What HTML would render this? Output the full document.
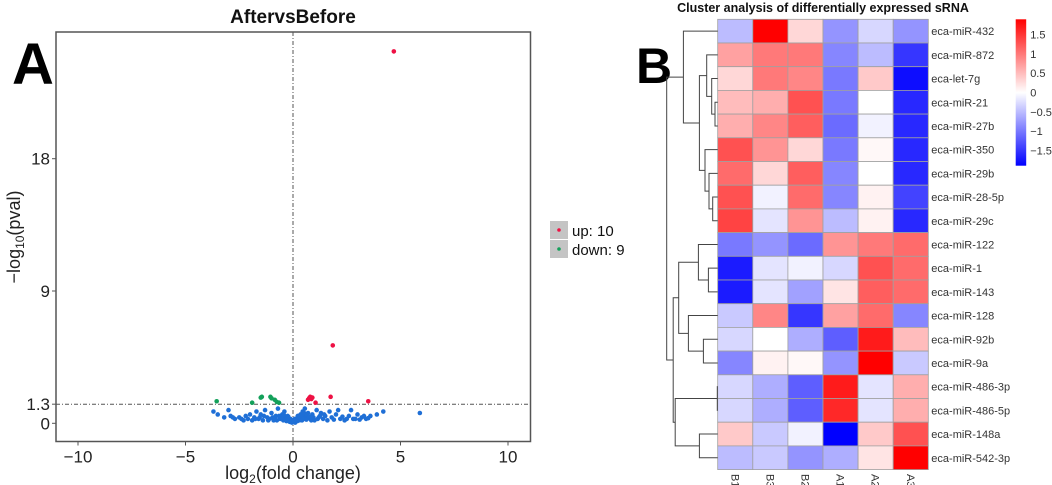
<!DOCTYPE html>
<html><head><meta charset="utf-8">
<style>
body{margin:0;background:#fff;}
svg{display:block;font-family:"Liberation Sans",Arial,sans-serif;}
</style></head>
<body>
<svg id="fig" width="1052" height="485" viewBox="0 0 1052 485">
  <g id="volcano"></g>
  <g id="heat"></g>
</svg>
<script>
// ---------- Volcano data ----------
const xTicks = [-10, -5, 0, 5, 10];
const yTicks = [0, 1.3, 9, 18];
const yTickLabels = ["0", "1.3", "9", "18"];
const blueX = [-3.7,-3.5,-3.2,-3.0,-2.9,-2.7,-2.5,-2.3,-2.1,-2.0,-1.9,-1.8,-1.7,-1.6,-1.5,-1.4,-1.3,-1.2,-1.1,-1.0,-0.9,-0.8,-0.7,-0.6,-0.5,-0.45,-0.4,-0.35,-0.3,-0.25,-0.2,-0.15,-0.1,-0.05,0,0.05,0.1,0.15,0.2,0.25,0.3,0.35,0.4,0.45,0.5,0.55,0.6,0.7,0.8,0.9,1.0,1.1,1.2,1.3,1.4,1.5,1.6,1.7,1.8,2.0,2.1,2.2,2.4,2.6,2.7,2.8,3.0,3.2,3.4,3.6,3.9,4.2,5.9,
  -2.8,-2.4,-2.2,-1.75,-1.55,-1.35,-1.15,-0.95,-0.85,-0.75,-0.65,-0.55,-0.5,-0.42,-0.38,-0.28,-0.22,-0.12,-0.08,0.02,0.08,0.12,0.18,0.22,0.28,0.32,0.38,0.42,0.48,0.52,0.62,0.65,0.75,0.85,0.95,1.15,1.25,1.45,1.9,2.3,2.5,2.9,3.1,3.3,3.5];
const blueY = [0.8,0.6,0.4,0.9,0.5,0.3,0.4,0.2,0.3,0.6,0.2,0.4,0.8,0.3,0.6,0.2,0.9,0.4,0.3,0.7,0.2,0.5,1.0,0.3,0.6,0.2,0.8,0.4,0.15,0.5,0.3,0.1,0.25,0.05,0.1,0.2,0.05,0.3,0.15,0.4,0.2,0.6,0.3,0.8,0.5,1.0,0.4,0.7,0.3,0.6,0.2,0.9,0.4,0.7,0.3,0.5,0.2,0.8,0.4,0.6,0.9,0.3,0.2,0.5,0.9,0.3,0.6,0.4,0.3,0.5,0.6,0.8,0.7,
  0.4,0.3,0.5,0.3,0.4,0.5,0.2,0.4,0.3,0.2,0.5,0.4,0.35,0.55,0.25,0.35,0.45,0.3,0.15,0.2,0.3,0.2,0.25,0.5,0.35,0.4,0.55,0.2,0.3,0.7,0.25,0.55,0.45,0.2,0.4,0.3,0.5,0.6,0.25,0.45,0.3,0.3,0.25,0.5,0.35];
const upX = [4.69,1.85,0.75,0.8,0.85,0.9,1.05,1.75,3.5,0.7];
const upY = [25.3,5.3,1.7,1.8,1.65,1.75,1.4,1.8,1.5,1.6];
const downX = [-3.55,-1.45,-1.05,-0.85,-0.65,-1.9,-0.75,-1.0,-1.5];
const downY = [1.5,1.8,1.8,1.6,1.4,1.4,1.45,1.7,1.75];
const legendLabels = ["up: 10", "down: 9"];

// ---------- Heatmap data ----------
const genes = ["eca-miR-432","eca-miR-872","eca-let-7g","eca-miR-21","eca-miR-27b","eca-miR-350","eca-miR-29b","eca-miR-28-5p","eca-miR-29c","eca-miR-122","eca-miR-1","eca-miR-143","eca-miR-128","eca-miR-92b","eca-miR-9a","eca-miR-486-3p","eca-miR-486-5p","eca-miR-148a","eca-miR-542-3p"];
const samples = ["B1","B3","B2","A1","A2","A3"];
const values = [
[-0.5,1.9,0.3,-0.8,-0.3,-0.8],
[0.7,1.0,1.0,-0.9,-0.5,-1.5],
[0.3,1.0,0.9,-1.0,0.4,-1.8],
[0.5,0.6,1.3,-1.0,0,-1.6],
[0.6,0.9,1.2,-1.1,-0.1,-1.6],
[1.3,0.8,0.3,-1.0,0.05,-1.6],
[1.1,0.3,1.2,-0.9,0,-1.6],
[1.3,-0.1,1.1,-0.9,0.1,-1.4],
[1.4,-0.2,0.8,-0.5,0.1,-1.6],
[-1.0,-0.8,-1.1,0.8,1.0,1.1],
[-1.7,-0.2,-0.1,-0.3,1.3,1.1],
[-1.7,-0.2,-0.7,0.2,1.2,1.1],
[-0.4,0.9,-1.5,0.7,1.1,-0.9],
[-0.3,0,-0.6,-1.2,1.7,0.5],
[-0.9,0.1,0.05,-0.8,1.9,-0.4],
[-0.3,-0.6,-1.2,1.7,-0.2,0.6],
[-0.3,-0.6,-1.2,1.6,-0.2,0.6],
[0.4,-0.4,-0.1,-1.9,0.4,1.3],
[-0.5,-0.4,-0.8,-0.6,0.2,1.9]];
const cbTicks = [1.5,1,0.5,0,-0.5,-1,-1.5];
// dendrogram: [left, right, height]; leaves are row indices
const tree = [[0,[[1,[2,[3,4,2.7],6],11],[5,[6,[7,8,5],8.7],12.7],18.3],34.3],
              [[[9,[10,11,9.3],19.3],[12,[13,14,14.3],29.3],39],[[15,16,0.4],[17,18,18.3],42.5],44.5],51];

const NS='http://www.w3.org/2000/svg';
function mk(parent, tag, attrs){
  const e=document.createElementNS(NS,tag);
  for(const k in attrs) e.setAttribute(k,attrs[k]);
  parent.appendChild(e);
  return e;
}
// ---------- Volcano ----------
const V=document.getElementById('volcano');
const pl=56, pr=530.5, pt=32, pb=441.5;
const sx=v=>293+v*21.5;
const sy=v=>423.3-v*14.7;

let t=mk(V,'text',{x:293,y:23,'text-anchor':'middle','font-size':19,'font-weight':'bold',fill:'#111'});
t.textContent='AftervsBefore';



let r=mk(V,'rect',{x:pl,y:pt,width:pr-pl,height:pb-pt,fill:'none',stroke:'#555','stroke-width':1.5});



let l=mk(V,'line',{x1:sx(0),x2:sx(0),y1:pt,y2:pb,stroke:'#555','stroke-dasharray':'4,2,1,2','stroke-width':1});


l=mk(V,'line',{x1:pl,x2:pr,y1:sy(1.3),y2:sy(1.3),stroke:'#555','stroke-dasharray':'4,2,1,2','stroke-width':1});



xTicks.forEach(v=>{
  let tk=mk(V,'line',{x1:sx(v),x2:sx(v),y1:pb,y2:pb+4,stroke:'#555'});
  
  
  let tx=mk(V,'text',{x:sx(v),y:pb+21,'text-anchor':'middle','font-size':17,fill:'#222'});
  tx.textContent=(v<0?'\u2212'+(-v):String(v));
  
  
});
yTicks.forEach((v,i)=>{
  let tk=mk(V,'line',{x1:pl-4,x2:pl,y1:sy(v),y2:sy(v),stroke:'#555'});
  
  
  let tx=mk(V,'text',{x:pl-6,y:sy(v)+6,'text-anchor':'end','font-size':17,fill:'#222'});
  tx.textContent=yTickLabels[i];
  
  
});
t=mk(V,'text',{x:293,y:479,'text-anchor':'middle','font-size':18,fill:'#222'});
t.innerHTML='log<tspan font-size="12" dy="4">2</tspan><tspan dy="-4">(fold change)</tspan>';


t=mk(V,'text',{x:0,y:0,'text-anchor':'middle','font-size':18,fill:'#222',transform:'translate(20,237) rotate(-90)'});
t.innerHTML='\u2212log<tspan font-size="12" dy="4">10</tspan><tspan dy="-4">(pval)</tspan>';



function dots(xs,ys,color,name){
  xs.forEach((x,i)=>{
    let c=mk(V,'circle',{cx:sx(x),cy:sy(ys[i]),r:2.3,fill:color});
    
    
  });
}
dots(blueX,blueY,'#1f6fd6','point-unchanged');
dots(downX,downY,'#13a05a','point-down');
dots(upX,upY,'#ee1144','point-up');

t=mk(V,'text',{x:12,y:84,'font-size':58,'font-weight':'bold',fill:'#000'});
t.textContent='A';



['#ee1144','#13a05a'].forEach((c,i)=>{
  let b=mk(V,'rect',{x:550,y:221+i*19,width:18,height:18,fill:'#c4c4c4'});
  
  
  let d=mk(V,'circle',{cx:559,cy:230+i*19,r:1.8,fill:c});
  
  
  let tx=mk(V,'text',{x:572,y:236+i*19,'font-size':15,fill:'#111'});
  tx.textContent=legendLabels[i];
  
  
});

// ---------- Heatmap ----------
const H=document.getElementById('heat');
const hx0=717.7, hy0=19.3, cw=35.1, ch=23.7;
function col(v){
  const m=1.9, f=Math.max(-1,Math.min(1,v/m));
  let rr,gg,bb;
  if(f>=0){rr=255;gg=bb=Math.round(255*(1-f));}
  else{bb=255;rr=gg=Math.round(255*(1+f));}
  return `rgb(${rr},${gg},${bb})`;
}
values.forEach((row,i)=>row.forEach((v,j)=>{
  let c=mk(H,'rect',{x:hx0+j*cw,y:hy0+i*ch,width:cw,height:ch,fill:col(v),stroke:'#a0a0a0','stroke-width':0.8});
  
  
}));
genes.forEach((g,i)=>{
  let tx=mk(H,'text',{x:hx0+6*cw+3,y:hy0+i*ch+ch/2+4,'font-size':11,fill:'#333'});
  tx.textContent=g;
  
  
});
samples.forEach((s,j)=>{
  let cx=hx0+j*cw+cw/2-4;
  let tx=mk(H,'text',{x:0,y:0,'font-size':11,fill:'#333',transform:`translate(${cx},474) rotate(90)`});
  tx.textContent=s;
  
  
});
t=mk(H,'text',{x:823,y:12,'text-anchor':'middle','font-size':12.5,'font-weight':'bold',fill:'#111'});
t.textContent='Cluster analysis of differentially expressed sRNA';


t=mk(H,'text',{x:636,y:83,'font-size':50,'font-weight':'bold',fill:'#000'});
t.textContent='B';



// colour bar
const cbx=1015.7, cbw=10.5, cbTop=19.3, cbBot=165.7;
const grad=mk(H,'linearGradient',{id:'cbg',x1:0,y1:0,x2:0,y2:1});
[[0,1.9],[0.5,0],[1,-1.9]].forEach(([o,v])=>mk(grad,'stop',{offset:o,'stop-color':col(v)}));
let cb=mk(H,'rect',{x:cbx,y:cbTop,width:cbw,height:cbBot-cbTop,fill:'url(#cbg)'});


const cbs=v=>(cbTop+cbBot)/2 - v*(cbBot-cbTop)/3.8;
cbTicks.forEach(v=>{
  let tx=mk(H,'text',{x:cbx+cbw+4,y:cbs(v)+4,'font-size':11,fill:'#333'});
  tx.textContent=(v<0?'\u2212'+(-v):String(v));
  
  
});

// dendrogram
const dx=h=>hx0-h;
function draw(n){
  if(typeof n==='number') return {y:hy0+n*ch+ch/2,h:0};
  const a=draw(n[0]), b=draw(n[1]), h=n[2];
  const x=dx(h);
  let p=mk(H,'path',{d:`M${dx(a.h)},${a.y}H${x}V${b.y}H${dx(b.h)}`,fill:'none',stroke:'#444','stroke-width':1});
  
  
  return {y:(a.y+b.y)/2,h:h};
}
draw(tree);
</script>
</body></html>
